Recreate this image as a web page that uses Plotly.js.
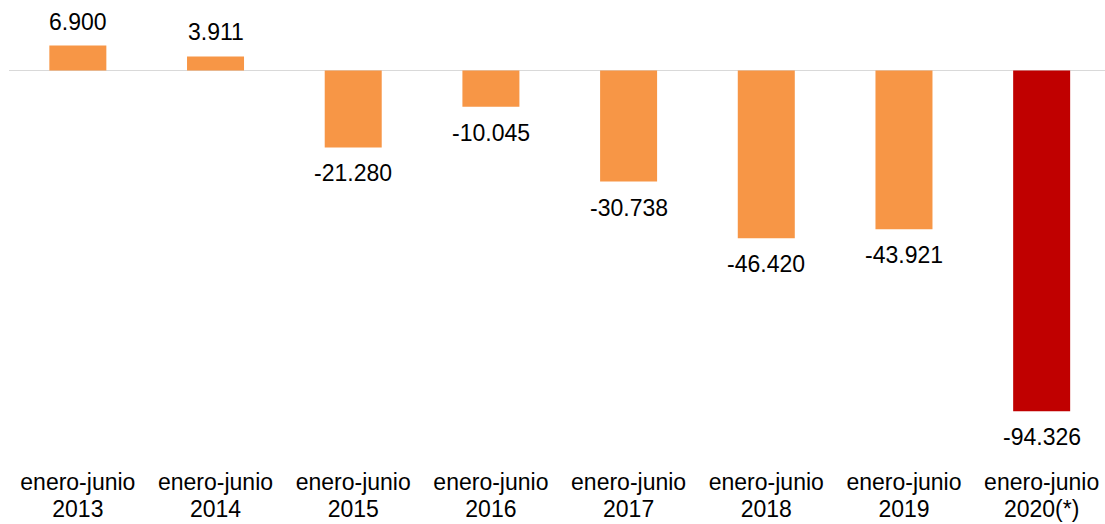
<!DOCTYPE html>
<html>
<head>
<meta charset="utf-8">
<script src="https://cdn.plot.ly/plotly-3.0.1.min.js"></script>
<style>html,body{margin:0;padding:0;background:#fff;}#chart{width:1105px;height:524px;}</style>
</head>
<body>
<div id="chart"></div>
<script>
const categories = ["2013", "2014", "2015", "2016", "2017", "2018", "2019", "2020(*)"];
const periodLabel = "enero-junio";
const yearLabels = ["2013", "2014", "2015", "2016", "2017", "2018", "2019", "2020(*)"];
const values = [6.900, 3.911, -21.280, -10.045, -30.738, -46.420, -43.921, -94.326];
const valueLabels = ["6.900", "3.911", "-21.280", "-10.045", "-30.738", "-46.420", "-43.921", "-94.326"];
const barColors = ["#F79646", "#F79646", "#F79646", "#F79646", "#F79646", "#F79646", "#F79646", "#C00000"];

const font = "Liberation Sans, Arial, sans-serif";
const xIdx = categories.map((c, i) => i);
const xRange = [-0.5, 7.46];

const annotations = values.map((v, i) => ({
  x: i, y: v, xref: "x", yref: "y",
  text: valueLabels[i], showarrow: false,
  xanchor: "center", yanchor: "middle",
  yshift: v >= 0 ? 24 : -26,
  font: {family: font, size: 23, color: "#000"}
}));

Plotly.newPlot("chart", [{
  type: "bar",
  x: xIdx,
  y: values,
  width: 0.414,
  marker: {color: barColors, line: {width: 0}},
  hoverinfo: "none"
}, {
  type: "scatter",
  mode: "markers",
  x: xIdx,
  y: values,
  xaxis: "x2",
  marker: {opacity: 0, size: 1},
  hoverinfo: "none",
  showlegend: false
}], {
  width: 1105, height: 524,
  margin: {l: 9, r: 0, t: 0, b: 58},
  paper_bgcolor: "#fff", plot_bgcolor: "#fff",
  showlegend: false,
  xaxis: {
    range: xRange,
    tickvals: xIdx, ticktext: xIdx.map(() => periodLabel),
    showgrid: false, zeroline: false, showline: false, ticks: "",
    tickfont: {family: font, size: 23, color: "#000"},
    fixedrange: true
  },
  xaxis2: {
    overlaying: "x", anchor: "y", side: "bottom",
    range: xRange,
    tickvals: xIdx, ticktext: yearLabels,
    ticklabelstandoff: 27,
    showgrid: false, zeroline: false, showline: false, ticks: "",
    tickfont: {family: font, size: 23, color: "#000"},
    fixedrange: true
  },
  yaxis: {
    range: [-109.5, 19.53],
    showgrid: false, showticklabels: false, ticks: "",
    zeroline: true, zerolinecolor: "#D9D9D9", zerolinewidth: 1.5,
    showline: false, fixedrange: true
  },
  annotations: annotations
}, {displayModeBar: false, staticPlot: true});
</script>
</body>
</html>
